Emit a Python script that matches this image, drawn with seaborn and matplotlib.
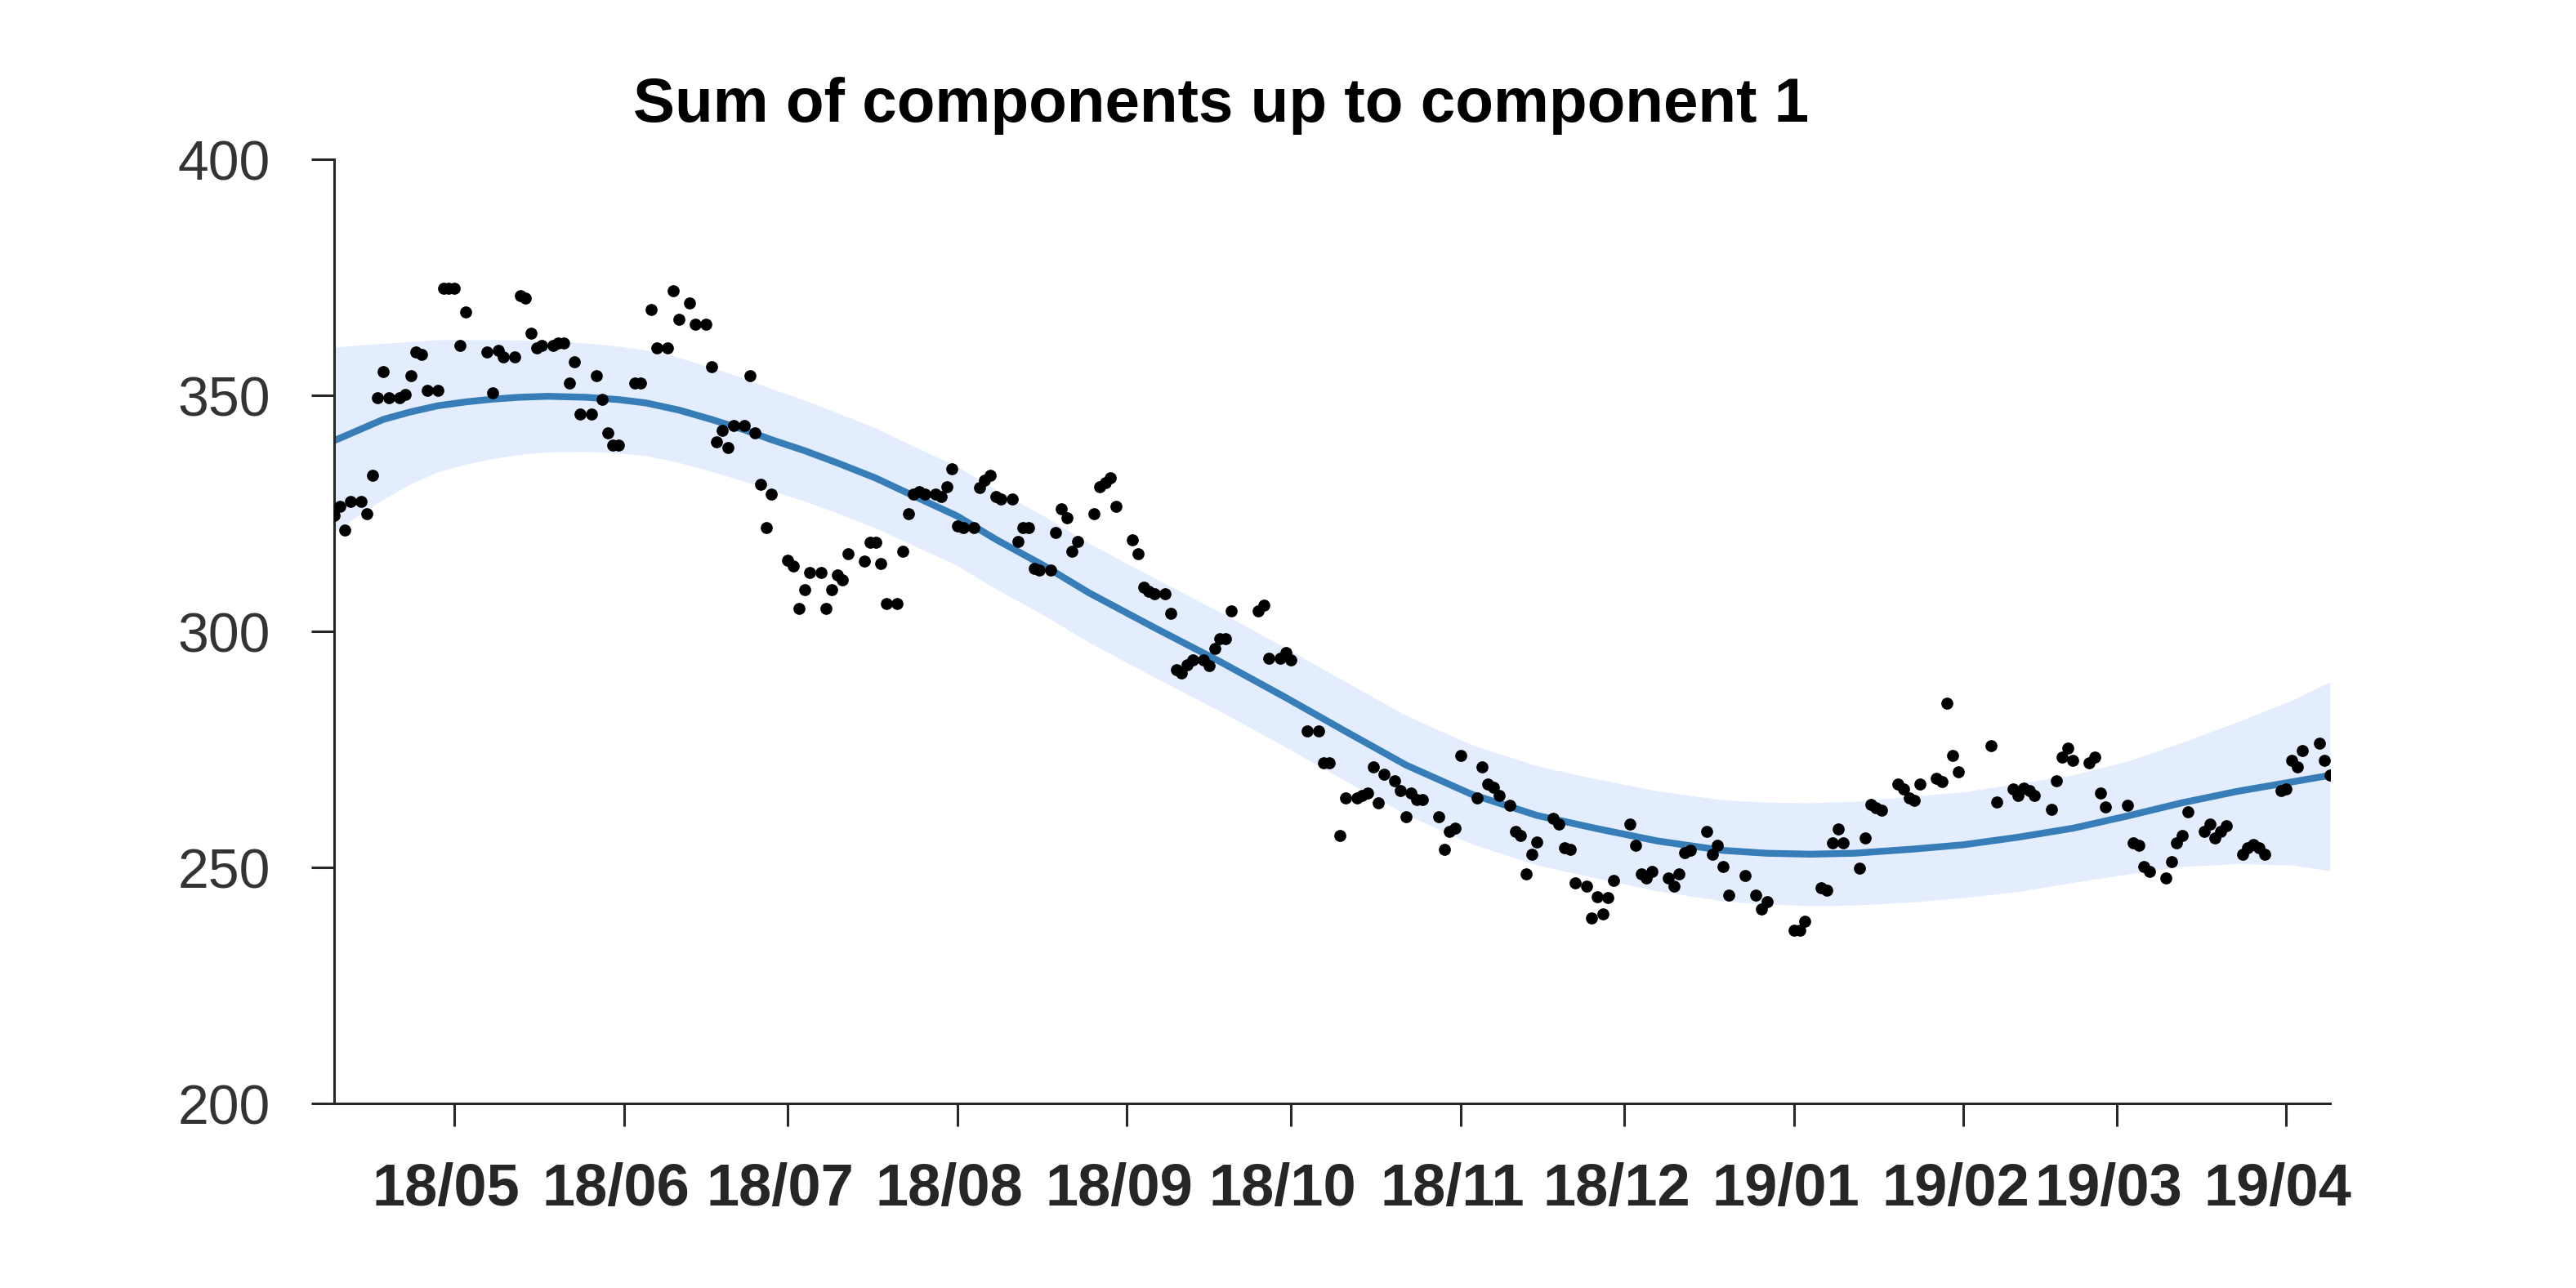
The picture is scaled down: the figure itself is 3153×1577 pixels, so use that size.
import pandas as pd
import seaborn as sns
import matplotlib.pyplot as plt
import matplotlib.transforms as mtransforms

start = pd.Timestamp('2018-04-09')

# observed points: day offset from start, value
day = [0, 1, 2, 3, 5, 6, 7, 8, 9, 10, 12, 13, 14, 15, 16, 17, 19, 20, 21, 22, 23, 24,
       28, 29, 30, 31, 33, 34, 35, 36, 37, 38, 40, 41, 42, 43, 44, 45, 47, 48, 49, 50,
       51, 52, 55, 56, 58, 59, 61, 62, 63, 65, 66, 68, 69, 70, 71, 72, 73, 75, 76, 77,
       78, 79, 80, 83, 84, 85, 86, 87, 89, 90, 91, 92, 93, 94, 97, 98, 99, 100, 101, 103,
       104, 105, 106, 107, 108, 110, 111, 112, 113, 114, 115, 117, 118, 119, 120, 121, 122, 124,
       125, 126, 127, 128, 129, 131, 132, 133, 134, 135, 136, 139, 140, 141, 142, 143,
       146, 147, 148, 149, 150, 152, 153, 154, 155, 156, 157, 159, 160, 161, 162, 163, 164,
       169, 170, 171, 173, 174, 175, 178, 180, 181, 182, 184, 185, 187, 188, 189, 190, 191,
       192, 194, 195, 196, 197, 198, 199, 202, 203, 204, 205, 206, 209, 210, 211, 212, 213,
       215, 216, 217, 218, 219, 220, 223, 224, 225, 226, 227, 229, 230, 231, 232, 233, 234,
       237, 238, 239, 240, 241, 244, 245, 246, 247, 248, 251, 252, 253, 254, 255, 258, 260,
       261, 262, 267, 268, 269, 272, 273, 274, 275, 276, 279, 280, 281, 282, 283, 286, 287,
       288, 289, 290, 293, 294, 295, 296, 297, 303, 304, 307, 308, 309, 310, 311, 314, 315,
       316, 317, 318, 321, 322, 323, 324, 328, 329, 330, 331, 332, 335, 336, 337, 338, 339,
       342, 343, 344, 345, 346, 349, 350, 351, 352, 353, 356, 357, 358, 359, 360, 363, 364, 365]
price = [324.5, 326.4, 321.5, 327.5, 327.5, 324.9, 333.0, 349.5, 355.1, 349.5, 349.5, 350.1,
         354.1, 359.1, 358.6, 351.0, 351.0, 372.6, 372.6, 372.6, 360.6, 367.6,
         359.1, 350.6, 359.6, 358.1, 358.1, 371.1, 370.6, 363.1, 360.1, 360.6, 360.6, 361.1,
         361.1, 352.6, 357.1, 346.0, 346.1, 354.1, 349.1, 342.1,
         339.5, 339.5, 352.6, 352.6, 368.1, 360.1, 360.1, 372.1, 366.1, 369.6, 365.1, 365.1,
         356.1, 340.1, 342.5, 339.0, 343.6, 343.6, 354.1, 342.1,
         331.1, 322.0, 329.0, 315.0, 313.8, 304.9, 308.9, 312.4, 312.4, 304.9, 308.9, 312.0,
         310.9, 316.4, 314.9, 318.9, 318.9, 314.4, 305.9, 305.9,
         316.9, 325.0, 329.0, 329.6, 329.0, 329.0, 328.5, 330.6, 334.5, 322.4, 322.0, 322.0,
         330.5, 332.0, 333.0, 328.5, 328.0, 328.0,
         319.0, 322.0, 322.0, 313.4, 313.0, 313.0, 321.0, 326.0, 324.0, 317.0, 319.0, 325.0,
         330.6, 331.5, 332.6, 326.5,
         319.4, 316.4, 309.4, 308.4, 308.0, 308.0, 303.9, 291.9, 291.1, 292.9, 294.0, 294.0,
         292.8, 296.4, 298.4, 298.4, 304.4,
         304.4, 305.5, 294.3, 294.3, 295.5, 293.9, 278.9, 278.9, 272.2, 272.2, 256.7, 264.7,
         264.7, 265.3, 265.8, 271.3, 263.7,
         269.8, 268.3, 266.2, 260.7, 265.8, 264.3, 264.3, 260.7, 253.8, 257.7, 258.3, 273.7,
         264.7, 271.3, 267.7, 266.9, 265.2,
         263.2, 257.7, 256.7, 248.7, 252.7, 255.3, 260.3, 259.2, 254.2, 253.8, 246.7, 246.1,
         239.2, 243.7, 240.2, 243.6, 247.2,
         259.2, 254.7, 248.7, 247.7, 249.2, 247.7, 246.1, 248.7, 253.2, 253.7, 257.7, 252.7,
         254.7, 250.1, 244.2, 248.2, 244.2,
         241.1, 242.7, 236.6, 236.6, 238.6, 245.7, 245.1, 255.2, 258.2, 255.2, 249.8, 256.2,
         263.3, 262.7, 262.1, 267.7, 266.7,
         264.7, 264.2, 267.7, 268.8, 268.2, 284.8, 273.7, 270.3, 275.8, 263.8, 266.7, 265.2,
         266.8, 266.3, 265.2, 262.3, 268.3,
         273.3, 275.3, 272.7, 272.2, 273.3, 265.8, 262.8, 263.2, 255.2, 254.7, 250.2, 249.1,
         247.7, 251.2, 255.2, 256.8, 261.7,
         257.7, 259.1, 256.2, 257.7, 258.8, 252.7, 254.2, 254.8, 254.2, 252.7, 266.2, 266.7,
         272.7, 271.3, 274.8, 276.3, 272.7, 269.5]

# fitted component and its band
curve_day = [0, 5, 9, 14, 19, 24, 29, 34, 39, 46, 52, 57, 63, 69, 75, 80, 86, 92, 99,
             106, 114, 121, 130, 138, 150, 162, 174, 185, 196, 208, 220, 231, 242, 254,
             262, 270, 278, 289, 298, 308, 318, 328, 338, 348, 358, 365]
curve_mean = [340.4, 342.9, 344.9, 346.5, 347.8, 348.6, 349.2, 349.6, 349.8, 349.6, 349.1,
              348.4, 346.9, 344.9, 342.7, 340.6, 338.3, 335.7, 332.5, 328.7, 324.4, 319.5,
              313.8, 308.2, 300.8, 293.6, 286.0, 278.8, 271.7, 265.5, 261.0, 258.2, 255.6,
              253.6, 253.0, 252.8, 253.0, 253.9, 254.8, 256.4, 258.3, 260.9, 263.7, 266.1,
              268.1, 269.5]
curve_upper = [360.2, 360.7, 361.0, 361.4, 361.8, 361.8, 361.8, 361.7, 361.6, 361.1, 360.4,
               359.6, 358.0, 355.9, 353.6, 351.4, 349.0, 346.3, 343.1, 339.2, 334.9, 330.0,
               324.3, 318.7, 311.3, 304.1, 296.5, 289.3, 282.2, 276.0, 271.5, 268.7, 266.2,
               264.3, 263.8, 263.7, 264.0, 265.1, 266.0, 267.8, 269.6, 272.5, 276.5, 280.8,
               285.4, 289.3]
curve_lower = [321.0, 325.1, 328.0, 331.3, 333.8, 335.4, 336.6, 337.5, 338.0, 338.1, 337.8,
               337.2, 335.8, 333.9, 331.8, 329.8, 327.6, 325.1, 321.9, 318.2, 313.9, 309.0,
               303.3, 297.7, 290.3, 283.1, 275.5, 268.3, 261.2, 255.0, 250.5, 247.7, 245.0,
               242.9, 242.2, 241.9, 242.0, 242.7, 243.6, 244.9, 246.8, 248.6, 250.2, 250.8,
               250.5, 249.3]

df = pd.DataFrame({'date': start + pd.to_timedelta(day, unit='D'), 'value': price})
curve = pd.DataFrame({'date': start + pd.to_timedelta(curve_day, unit='D'),
                      'mean': curve_mean, 'upper': curve_upper, 'lower': curve_lower})
month_ticks = pd.date_range('2018-05-01', '2019-04-01', freq='MS')

sns.set_style('ticks')
plt.rcParams['font.family'] = ['Liberation Sans', 'DejaVu Sans']

fig = plt.figure(figsize=(15.765, 7.885), dpi=200)
ax = fig.add_axes([0.1297, 0.1433, 0.7748, 0.7330])

ax.fill_between(curve['date'], curve['lower'], curve['upper'], color='#e4edfd', lw=0, zorder=1)
sns.lineplot(data=curve, x='date', y='mean', color='#377eb8', linewidth=3.0, ax=ax, zorder=2)
sns.scatterplot(data=df, x='date', y='value', color='black', s=28, linewidth=0, ax=ax, zorder=3)

ax.set_xlim(df['date'].iloc[0], df['date'].iloc[-1])
ax.set_ylim(200, 400)
ax.set_yticks([200, 250, 300, 350, 400])
ax.set_xticks(month_ticks)
ax.set_xticklabels([d.strftime('%y/%m') for d in month_ticks], fontweight='bold')
ax.set_xlabel('')
ax.set_ylabel('')

sns.despine(ax=ax)
for s in ['left', 'bottom']:
    ax.spines[s].set_linewidth(1.1)
    ax.spines[s].set_color('#262626')
ax.tick_params(axis='both', length=10, width=1.1, color='#262626')
ax.tick_params(axis='x', pad=16, labelsize=26, labelcolor='#262626')
ax.tick_params(axis='y', pad=18, labelsize=24.5, labelcolor='#333333')

# month labels sit a little left of their ticks
shift = mtransforms.ScaledTranslation(-10 / 200, 0, fig.dpi_scale_trans)
for lbl in ax.get_xticklabels():
    lbl.set_transform(lbl.get_transform() + shift)

fig.text(0.474, 1 - 149 / 1577, 'Sum of components up to component 1', ha='center',
         va='baseline', fontsize=27.5, fontweight='bold', color='black')

fig.savefig('out.png', dpi=200)
